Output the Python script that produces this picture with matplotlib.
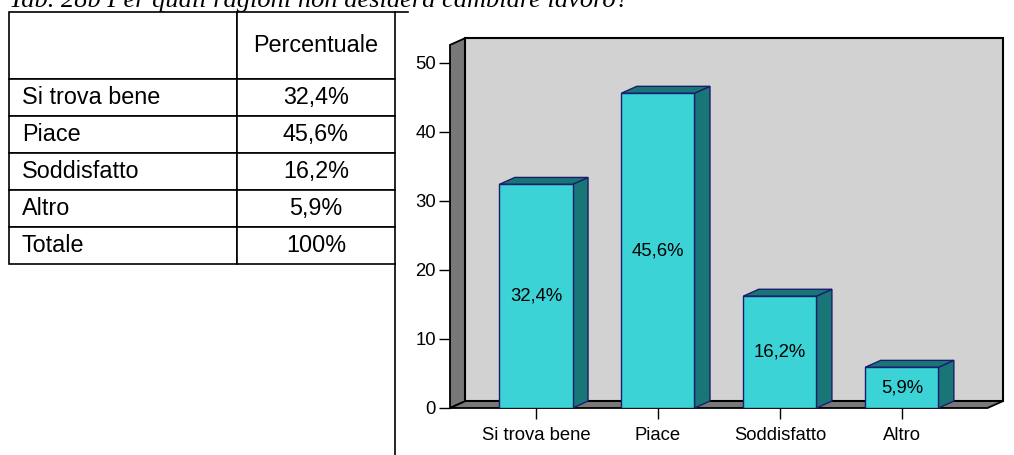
import matplotlib
matplotlib.use('Agg')
import matplotlib.pyplot as plt
from matplotlib import font_manager
from matplotlib.patches import Polygon, Rectangle

plt.rcParams['font.family'] = ['Liberation Sans', 'DejaVu Sans']

title = 'Tab. 28b Per quali ragioni non desidera cambiare lavoro?'
categories = ['Si trova bene', 'Piace', 'Soddisfatto', 'Altro']
values = [32.4, 45.6, 16.2, 5.9]
value_labels = ['32,4%', '45,6%', '16,2%', '5,9%']
total_label = 'Totale'
total_value = '100%'
col_header = 'Percentuale'
yticks = [0, 10, 20, 30, 40, 50]

# the chart text in the scan is a condensed Arial
installed = {f.name for f in font_manager.fontManager.ttflist}
if 'Liberation Sans Narrow' in installed:
    chart_font, chart_size = 'Liberation Sans Narrow', 15
else:
    chart_font, chart_size = 'Liberation Sans', 13.3

W, H = 1014, 455
fig = plt.figure(figsize=(W / 100, H / 100), dpi=100)

# title of the page, cut off at the top in the scan
fig.text(9 / W, 1 - 7 / H, title, family='Liberation Serif', style='italic',
         fontsize=19, ha='left', va='baseline')

# --- table on the left ---
tab_ax = fig.add_axes([9 / W, 191 / H, 386 / W, 252 / H])
tab_ax.axis('off')
rows = [[c, v] for c, v in zip(categories + [total_label], value_labels + [total_value])]
tbl = tab_ax.table(cellText=rows, colLabels=['', col_header], cellLoc='center',
                   colWidths=[228, 158], bbox=[0, 0, 1, 1])
tbl.auto_set_font_size(False)
for (r, c), cell in tbl.get_celld().items():
    cell.set_edgecolor('black')
    cell.set_linewidth(1.2)
    cell.set_height(67 if r == 0 else 37)
    cell.get_text().set_fontsize(16.8)
    if c == 0:
        cell.get_text().set_ha('left')
        cell.PAD = 0.057

# page border lines that run past the table
tab_ax.plot([1, 1], [0, -0.76], color='black', lw=1.2, clip_on=False,
            transform=tab_ax.transAxes)
tab_ax.plot([1, 1.034], [1, 1], color='black', lw=1.2, clip_on=False,
            transform=tab_ax.transAxes)

# --- pseudo 3d bar chart ---
ax = fig.add_axes([450 / W, 47 / H, 553 / W, 370 / H])
xl, xr = -0.705, 3.83
top = 53.6
dx, dy = 0.127, 1.0
ax.set_xlim(xl, xr)
ax.set_ylim(0, top)
for s in ax.spines.values():
    s.set_visible(False)
ax.patch.set_visible(False)

wall_dark = '#787878'
ax.add_patch(Polygon([(xl, 0), (xl + dx, dy), (xl + dx, top), (xl, top - dy)],
                     closed=True, fc=wall_dark, ec='black', lw=1.3, clip_on=False, zorder=1))
ax.add_patch(Rectangle((xl + dx, dy), xr - xl - dx, top - dy,
                       fc='#d2d2d2', ec='black', lw=1.5, clip_on=False, zorder=1))
ax.add_patch(Polygon([(xl, 0), (xr - dx, 0), (xr, dy), (xl + dx, dy)],
                     closed=True, fc=wall_dark, ec='black', lw=1.3, clip_on=False, zorder=2))

bw = 0.6
face = '#3bd3d6'
shade = '#197676'
edge = '#1c1c6e'
for i, (v, lab) in enumerate(zip(values, value_labels)):
    x0, x1 = i - bw / 2, i + bw / 2
    ax.add_patch(Polygon([(x1, 0), (x1 + dx, dy), (x1 + dx, v + dy), (x1, v)],
                         closed=True, fc=shade, ec=edge, lw=1, zorder=3))
    ax.add_patch(Polygon([(x0, v), (x1, v), (x1 + dx, v + dy), (x0 + dx, v + dy)],
                         closed=True, fc=shade, ec=edge, lw=1, zorder=3))
    ax.add_patch(Rectangle((x0, 0), bw, v, fc=face, ec=edge, lw=1, zorder=4))
    ax.text(i, v / 2, lab, ha='center', va='center', family=chart_font,
            fontsize=chart_size, zorder=5)

ax.set_yticks(yticks)
ax.set_yticklabels([str(t) for t in yticks], family=chart_font)
ax.set_xticks(range(len(categories)))
ax.set_xticklabels(categories, family=chart_font)
ax.tick_params(axis='y', length=8, width=1, pad=2, labelsize=chart_size, colors='black')
ax.tick_params(axis='x', length=8, width=1, pad=6, labelsize=chart_size, colors='black')

fig.savefig('out.png', dpi=100)
